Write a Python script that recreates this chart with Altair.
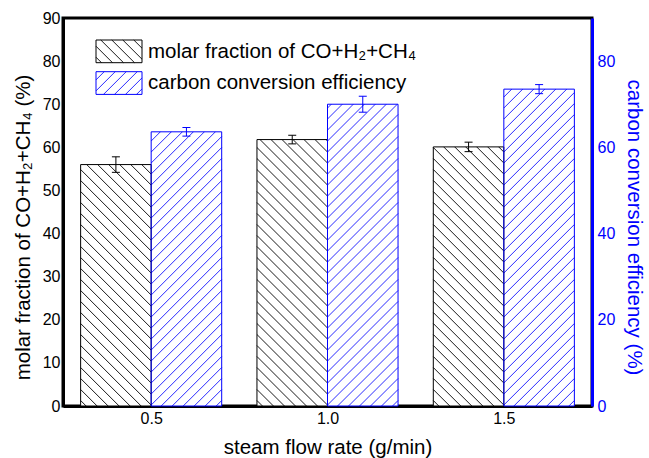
import altair as alt
import pandas as pd

# ---------------- data ----------------
rates = [0.5, 1.0, 1.5]
molar = [56.0, 61.8, 60.1]
molar_err = [1.8, 1.0, 1.1]
carbon = [63.6, 70.0, 73.5]
carbon_err = [1.0, 1.85, 1.05]
series_names = ["molar fraction of CO+H₂+CH₄", "carbon conversion efficiency"]
x_ticks = [0.5, 1.0, 1.5]
y_left_ticks = [0, 10, 20, 30, 40, 50, 60, 70, 80, 90]
y_right_ticks = [0, 20, 40, 60, 80]

# ---------------- layout / style constants ----------------
W, H = 529, 388
X_DOM = [0.25, 1.75]
Y_DOM = [0, 90]
KX = W / (X_DOM[1] - X_DOM[0])
KY = H / (Y_DOM[1] - Y_DOM[0])
BAR_W = 0.2
SPACING = 11.0
CAP = 4 / KX
BLACK = "#000000"
BLUE = "#0000ff"
HATCH_BLACK = "#1a1a1a"
HATCH_BLUE = "#2b2bff"
FONT = "Liberation Sans"

rows = []
for i, r in enumerate(rates):
    rows.append({"series": series_names[0], "rate": r, "value": molar[i], "err": molar_err[i], "side": -1})
    rows.append({"series": series_names[1], "rate": r, "value": carbon[i], "err": carbon_err[i], "side": 1})
df = pd.DataFrame(rows)
leg = pd.DataFrame({"series": series_names, "idx": [0, 1]})

xs = alt.Scale(domain=X_DOM, nice=False, zero=False)
ys = alt.Scale(domain=Y_DOM, nice=False)
color_scale = alt.Scale(domain=series_names, range=[BLACK, BLUE])

x_axis = alt.Axis(values=x_ticks, format=".1f", title="steam flow rate (g/min)", grid=False, ticks=False,
                  domainWidth=3, domainColor=BLACK, labelFontSize=16, labelPadding=4, labelColor=BLACK,
                  labelFont=FONT, titleFont=FONT, titleFontSize=20.5, titleFontWeight="normal",
                  titleColor=BLACK, titleY=47, titleBaseline="alphabetic")
y_axis = alt.Axis(orient="left", values=y_left_ticks, title="molar fraction of CO+H₂+CH₄ (%)", grid=False,
                  ticks=False, domainWidth=3, domainColor=BLACK, labelFontSize=16, labelPadding=3,
                  labelColor=BLACK, labelFont=FONT, titleFont=FONT, titleFontSize=20.5,
                  titleFontWeight="normal", titleColor=BLACK, titleX=-34, titleY=209,
                  titleBaseline="alphabetic", titleAngle=270)
y_axis_right = alt.Axis(orient="right", values=y_right_ticks, title="carbon conversion efficiency (%)",
                        grid=False, ticks=False, domainWidth=3, domainColor=BLUE, labelFontSize=16,
                        labelPadding=5, labelColor=BLUE, labelFont=FONT, titleFont=FONT, titleFontSize=20.5,
                        titleFontWeight="normal", titleColor=BLUE, titleX=35, titleY=209,
                        titleBaseline="alphabetic", titleAngle=90)


def add_hatch(ch, direction):
    ch = ch.transform_calculate(k="sequence(0, 80)").transform_flatten(["k"])
    if direction == "back":
        ch = ch.transform_calculate(c=f"(datum.k + 0.5) * {SPACING}")
        ch = ch.transform_filter("datum.c < datum.w + datum.h")
        ch = ch.transform_calculate(
            xa="max(0, datum.c - datum.h)", ya="datum.c - datum.xa",
            xb="min(datum.w, datum.c)", yb="datum.c - datum.xb")
    else:
        ch = ch.transform_calculate(c=f"-datum.w + (datum.k + 0.5) * {SPACING}")
        ch = ch.transform_filter("datum.c < datum.h")
        ch = ch.transform_calculate(
            xa="max(0, -datum.c)", ya="datum.xa + datum.c",
            xb="min(datum.w, datum.h - datum.c)", yb="datum.xb + datum.c")
    return ch


def bar_hatch(sname, direction, color):
    base = alt.Chart(df).transform_filter(alt.datum.series == sname).transform_calculate(
        x0=f"datum.rate + (datum.side < 0 ? -{BAR_W} : 0)",
        w=f"{BAR_W * KX}", h=f"datum.value * {KY}")
    base = add_hatch(base, direction)
    base = base.transform_calculate(
        X1=f"datum.x0 + datum.xa / {KX}", Y1=f"datum.ya / {KY}",
        X2=f"datum.x0 + datum.xb / {KX}", Y2=f"datum.yb / {KY}")
    return base.mark_rule(color=color, strokeWidth=1).encode(
        x=alt.X("X1:Q", scale=xs, axis=x_axis), x2="X2:Q",
        y=alt.Y("Y1:Q", scale=ys, axis=y_axis), y2="Y2:Q")


def legend_hatch(sname, direction, color):
    base = alt.Chart(leg).transform_filter(alt.datum.series == sname).transform_calculate(
        L="33", T="22 + datum.idx * 31.7", w="46", h="22.7")
    base = base.transform_calculate(B="datum.T + datum.h")
    base = add_hatch(base, direction)
    base = base.transform_calculate(
        X1="datum.L + datum.xa", Y1="datum.B - datum.ya",
        X2="datum.L + datum.xb", Y2="datum.B - datum.yb")
    return base.mark_rule(color=color, strokeWidth=1).encode(
        x=alt.X("X1:Q", scale=None, axis=None), x2="X2:Q",
        y=alt.Y("Y1:Q", scale=None, axis=None), y2="Y2:Q")


bar_base = alt.Chart(df).transform_calculate(
    x0=f"datum.rate + (datum.side < 0 ? -{BAR_W} : 0)",
    x1=f"datum.rate + (datum.side < 0 ? 0 : {BAR_W})",
    zero="0")

bars_fill = bar_base.mark_rect(fill="white", strokeWidth=0).encode(
    x=alt.X("x0:Q", scale=xs, axis=x_axis), x2="x1:Q",
    y=alt.Y("value:Q", scale=ys, axis=y_axis), y2="zero:Q")

bars_outline = bar_base.mark_rect(fillOpacity=0, strokeWidth=1).encode(
    x=alt.X("x0:Q", scale=xs, axis=x_axis), x2="x1:Q",
    y=alt.Y("value:Q", scale=ys, axis=y_axis), y2="zero:Q",
    stroke=alt.Stroke("series:N", scale=color_scale, legend=None))

err_base = alt.Chart(df).transform_calculate(
    xc=f"datum.rate + datum.side * {BAR_W / 2}",
    lo="datum.value - datum.err", hi="datum.value + datum.err")
err_base = err_base.transform_calculate(xl=f"datum.xc - {CAP}", xr=f"datum.xc + {CAP}")
err_stroke = alt.Stroke("series:N", scale=color_scale, legend=None)
err_v = err_base.mark_rule(strokeWidth=1).encode(
    x=alt.X("xc:Q", scale=xs, axis=x_axis), y=alt.Y("lo:Q", scale=ys, axis=y_axis), y2="hi:Q",
    stroke=err_stroke)
err_top = err_base.mark_rule(strokeWidth=1).encode(
    x=alt.X("xl:Q", scale=xs, axis=x_axis), x2="xr:Q", y=alt.Y("hi:Q", scale=ys, axis=y_axis),
    stroke=err_stroke)
err_bot = err_base.mark_rule(strokeWidth=1).encode(
    x=alt.X("xl:Q", scale=xs, axis=x_axis), x2="xr:Q", y=alt.Y("lo:Q", scale=ys, axis=y_axis),
    stroke=err_stroke)

main = alt.layer(
    bars_fill,
    bar_hatch(series_names[0], "back", HATCH_BLACK),
    bar_hatch(series_names[1], "fwd", HATCH_BLUE),
    bars_outline,
    err_v, err_top, err_bot,
)

leg_base = alt.Chart(leg).transform_calculate(
    L="33", R="79", T="22 + datum.idx * 31.7")
leg_base = leg_base.transform_calculate(B="datum.T + 22.7", tx="85", ty="datum.T + 17.5")
leg_fill = leg_base.mark_rect(fill="white", strokeWidth=0).encode(
    x=alt.X("L:Q", scale=None, axis=None), x2="R:Q",
    y=alt.Y("T:Q", scale=None, axis=None), y2="B:Q")
leg_outline = leg_base.mark_rect(fillOpacity=0, strokeWidth=1).encode(
    x=alt.X("L:Q", scale=None, axis=None), x2="R:Q",
    y=alt.Y("T:Q", scale=None, axis=None), y2="B:Q",
    stroke=alt.Stroke("series:N", scale=color_scale, legend=None))
leg_text = leg_base.mark_text(align="left", baseline="alphabetic", fontSize=20.5, font=FONT,
                              color=BLACK).encode(
    x=alt.X("tx:Q", scale=None, axis=None), y=alt.Y("ty:Q", scale=None, axis=None), text="series:N")

legend = alt.layer(
    leg_fill,
    legend_hatch(series_names[0], "back", HATCH_BLACK),
    legend_hatch(series_names[1], "fwd", HATCH_BLUE),
    leg_outline,
    leg_text,
)

right_axis = alt.Chart(df).mark_point(opacity=0).encode(
    y=alt.Y("value:Q", scale=alt.Scale(domain=Y_DOM, nice=False), axis=y_axis_right))

chart = alt.layer(main, right_axis, legend).resolve_scale(
    x="independent", y="independent"
).properties(
    width=W, height=H,
    autosize=alt.AutoSizeParams(type="none"),
    padding={"left": 63, "top": 18, "right": 57, "bottom": 52},
).configure(font=FONT).configure_view(stroke=BLACK, strokeWidth=3)

chart.save("out.html", embed_options={"renderer": "svg", "actions": False})
